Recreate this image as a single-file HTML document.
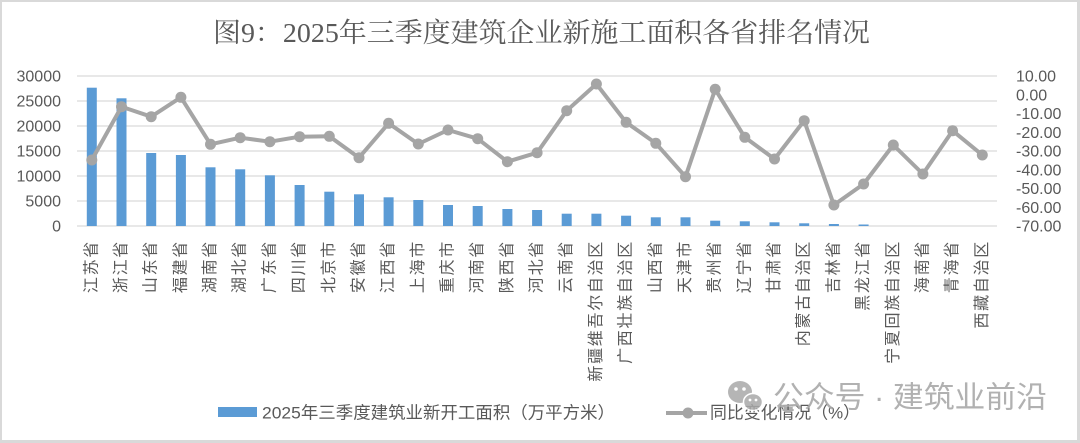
<!DOCTYPE html>
<html>
<head>
<meta charset="utf-8">
<style>
html,body{margin:0;padding:0;background:#fff;}
svg{display:block;}
.ax{font-family:"Liberation Sans","Noto Sans CJK SC",sans-serif;font-size:16px;fill:#595959;}
.xl{font-family:"Liberation Sans","Noto Sans CJK SC",sans-serif;font-size:16px;fill:#595959;letter-spacing:1.7px;}
</style>
</head>
<body>
<svg width="1080" height="443" viewBox="0 0 1080 443" xmlns="http://www.w3.org/2000/svg">
<rect x="0" y="0" width="1080" height="443" fill="#fff"/>
<!-- border -->
<rect x="0" y="0" width="1080" height="2" fill="#d9d9d9"/>
<rect x="0" y="0" width="2" height="443" fill="#d9d9d9"/>
<rect x="1077" y="0" width="3" height="443" fill="#d9d9d9"/>
<rect x="0" y="440" width="1080" height="3" fill="#d9d9d9"/>

<!-- title -->
<text x="213" y="33" dominant-baseline="central" textLength="657" lengthAdjust="spacingAndGlyphs" style="font-family:'Liberation Serif','Noto Serif CJK SC',serif;font-size:27px;fill:#595959;">图9：2025年三季度建筑企业新施工面积各省排名情况</text>

<!-- gridlines -->
<g stroke="#d9d9d9" stroke-width="1.2">
<line x1="77" y1="76" x2="997" y2="76"/>
<line x1="77" y1="101" x2="997" y2="101"/>
<line x1="77" y1="126" x2="997" y2="126"/>
<line x1="77" y1="151" x2="997" y2="151"/>
<line x1="77" y1="176" x2="997" y2="176"/>
<line x1="77" y1="201" x2="997" y2="201"/>
<line x1="77" y1="226" x2="997" y2="226"/>
</g>

<!-- left axis -->
<g class="ax" text-anchor="end" dominant-baseline="central">
<text x="61" y="77">30000</text>
<text x="61" y="102">25000</text>
<text x="61" y="127">20000</text>
<text x="61" y="152">15000</text>
<text x="61" y="177">10000</text>
<text x="61" y="202">5000</text>
<text x="61" y="227">0</text>
</g>

<!-- right axis -->
<g class="ax" text-anchor="start" dominant-baseline="central">
<text x="1016" y="77">10.00</text>
<text x="1016" y="95.75">0.00</text>
<text x="1016" y="114.5">-10.00</text>
<text x="1016" y="133.25">-20.00</text>
<text x="1016" y="152">-30.00</text>
<text x="1016" y="170.75">-40.00</text>
<text x="1016" y="189.5">-50.00</text>
<text x="1016" y="208.25">-60.00</text>
<text x="1016" y="227">-70.00</text>
</g>

<!-- bars -->
<g fill="#5b9bd5">
<rect x="86.8" y="87.7" width="10" height="138.3"/>
<rect x="116.5" y="98.3" width="10" height="127.7"/>
<rect x="146.2" y="153" width="10" height="73"/>
<rect x="175.9" y="155" width="10" height="71"/>
<rect x="205.5" y="167.3" width="10" height="58.7"/>
<rect x="235.2" y="169.3" width="10" height="56.7"/>
<rect x="264.9" y="175.3" width="10" height="50.7"/>
<rect x="294.6" y="185" width="10" height="41"/>
<rect x="324.3" y="191.7" width="10" height="34.3"/>
<rect x="354" y="194.3" width="10" height="31.7"/>
<rect x="383.6" y="197.3" width="10" height="28.7"/>
<rect x="413.3" y="200" width="10" height="26"/>
<rect x="443" y="205" width="10" height="21"/>
<rect x="472.7" y="206" width="10" height="20"/>
<rect x="502.4" y="209" width="10" height="17"/>
<rect x="532.1" y="210" width="10" height="16"/>
<rect x="561.7" y="213.7" width="10" height="12.3"/>
<rect x="591.4" y="213.7" width="10" height="12.3"/>
<rect x="621.1" y="215.7" width="10" height="10.3"/>
<rect x="650.8" y="217.3" width="10" height="8.7"/>
<rect x="680.5" y="217.3" width="10" height="8.7"/>
<rect x="710.2" y="220.7" width="10" height="5.3"/>
<rect x="739.8" y="221.3" width="10" height="4.7"/>
<rect x="769.5" y="222.3" width="10" height="3.7"/>
<rect x="799.2" y="223.3" width="10" height="2.7"/>
<rect x="828.9" y="224" width="10" height="2"/>
<rect x="858.6" y="224.5" width="10" height="1.5"/>
</g>

<!-- line series -->
<polyline fill="none" stroke="#a5a5a5" stroke-width="4" stroke-linejoin="round" points="91.8,160 121.5,106.7 151.2,116.7 180.9,97.3 210.5,144.3 240.2,137.7 269.9,141.7 299.6,136.7 329.3,136.3 359,157.7 388.6,123.3 418.3,144 448,130 477.7,138.7 507.4,161.7 537.1,152.7 566.7,110.7 596.4,84 626.1,122.3 655.8,143.3 685.5,176.7 715.2,89.3 744.8,137.3 774.5,159 804.2,120.7 833.9,205 863.6,184 893.3,145 922.9,174 952.6,130.7 982.3,155"/>
<g fill="#a5a5a5">
<circle cx="91.8" cy="160" r="5.5"/>
<circle cx="121.5" cy="106.7" r="5.5"/>
<circle cx="151.2" cy="116.7" r="5.5"/>
<circle cx="180.9" cy="97.3" r="5.5"/>
<circle cx="210.5" cy="144.3" r="5.5"/>
<circle cx="240.2" cy="137.7" r="5.5"/>
<circle cx="269.9" cy="141.7" r="5.5"/>
<circle cx="299.6" cy="136.7" r="5.5"/>
<circle cx="329.3" cy="136.3" r="5.5"/>
<circle cx="359" cy="157.7" r="5.5"/>
<circle cx="388.6" cy="123.3" r="5.5"/>
<circle cx="418.3" cy="144" r="5.5"/>
<circle cx="448" cy="130" r="5.5"/>
<circle cx="477.7" cy="138.7" r="5.5"/>
<circle cx="507.4" cy="161.7" r="5.5"/>
<circle cx="537.1" cy="152.7" r="5.5"/>
<circle cx="566.7" cy="110.7" r="5.5"/>
<circle cx="596.4" cy="84" r="5.5"/>
<circle cx="626.1" cy="122.3" r="5.5"/>
<circle cx="655.8" cy="143.3" r="5.5"/>
<circle cx="685.5" cy="176.7" r="5.5"/>
<circle cx="715.2" cy="89.3" r="5.5"/>
<circle cx="744.8" cy="137.3" r="5.5"/>
<circle cx="774.5" cy="159" r="5.5"/>
<circle cx="804.2" cy="120.7" r="5.5"/>
<circle cx="833.9" cy="205" r="5.5"/>
<circle cx="863.6" cy="184" r="5.5"/>
<circle cx="893.3" cy="145" r="5.5"/>
<circle cx="922.9" cy="174" r="5.5"/>
<circle cx="952.6" cy="130.7" r="5.5"/>
<circle cx="982.3" cy="155" r="5.5"/>
</g>

<!-- x labels -->
<g class="xl" text-anchor="end" dominant-baseline="central">
<text transform="translate(91.8,240) rotate(-90)">江苏省</text>
<text transform="translate(121.5,240) rotate(-90)">浙江省</text>
<text transform="translate(151.2,240) rotate(-90)">山东省</text>
<text transform="translate(180.9,240) rotate(-90)">福建省</text>
<text transform="translate(210.5,240) rotate(-90)">湖南省</text>
<text transform="translate(240.2,240) rotate(-90)">湖北省</text>
<text transform="translate(269.9,240) rotate(-90)">广东省</text>
<text transform="translate(299.6,240) rotate(-90)">四川省</text>
<text transform="translate(329.3,240) rotate(-90)">北京市</text>
<text transform="translate(359,240) rotate(-90)">安徽省</text>
<text transform="translate(388.6,240) rotate(-90)">江西省</text>
<text transform="translate(418.3,240) rotate(-90)">上海市</text>
<text transform="translate(448,240) rotate(-90)">重庆市</text>
<text transform="translate(477.7,240) rotate(-90)">河南省</text>
<text transform="translate(507.4,240) rotate(-90)">陕西省</text>
<text transform="translate(537.1,240) rotate(-90)">河北省</text>
<text transform="translate(566.7,240) rotate(-90)">云南省</text>
<text transform="translate(596.4,240) rotate(-90)">新疆维吾尔自治区</text>
<text transform="translate(626.1,240) rotate(-90)">广西壮族自治区</text>
<text transform="translate(655.8,240) rotate(-90)">山西省</text>
<text transform="translate(685.5,240) rotate(-90)">天津市</text>
<text transform="translate(715.2,240) rotate(-90)">贵州省</text>
<text transform="translate(744.8,240) rotate(-90)">辽宁省</text>
<text transform="translate(774.5,240) rotate(-90)">甘肃省</text>
<text transform="translate(804.2,240) rotate(-90)">内蒙古自治区</text>
<text transform="translate(833.9,240) rotate(-90)">吉林省</text>
<text transform="translate(863.6,240) rotate(-90)">黑龙江省</text>
<text transform="translate(893.3,240) rotate(-90)">宁夏回族自治区</text>
<text transform="translate(922.9,240) rotate(-90)">海南省</text>
<text transform="translate(952.6,240) rotate(-90)">青海省</text>
<text transform="translate(982.3,240) rotate(-90)">西藏自治区</text>
</g>

<!-- legend -->
<rect x="218" y="407" width="39" height="10" fill="#5b9bd5"/>
<text x="262" y="413" dominant-baseline="central" textLength="353" lengthAdjust="spacingAndGlyphs" style="font-family:'Liberation Sans','Noto Sans CJK SC',sans-serif;font-size:17px;fill:#595959;">2025年三季度建筑业新开工面积（万平方米）</text>
<line x1="666" y1="413" x2="707" y2="413" stroke="#a5a5a5" stroke-width="4"/>
<circle cx="688" cy="413" r="5.5" fill="#a5a5a5"/>
<text x="710" y="413" dominant-baseline="central" textLength="150" lengthAdjust="spacingAndGlyphs" style="font-family:'Liberation Sans','Noto Sans CJK SC',sans-serif;font-size:17px;fill:#595959;">同比变化情况（%）</text>

<!-- watermark -->
<g opacity="0.85">
<ellipse cx="740" cy="392" rx="12" ry="11" fill="#a9a9a9"/>
<circle cx="736" cy="389" r="1.8" fill="#fff"/>
<circle cx="744" cy="389" r="1.8" fill="#fff"/>
<ellipse cx="753" cy="402" rx="9.5" ry="8.5" fill="#a9a9a9" stroke="#fff" stroke-width="1.5"/>
<circle cx="750" cy="400" r="1.4" fill="#fff"/>
<circle cx="756" cy="400" r="1.4" fill="#fff"/>
</g>
<text x="773" y="398" dominant-baseline="central" textLength="274" lengthAdjust="spacingAndGlyphs" style="font-family:'Liberation Sans','Noto Sans CJK SC',sans-serif;font-size:30px;fill:#a8a8a8;fill-opacity:0.9;">公众号 · 建筑业前沿</text>
</svg>
</body>
</html>
